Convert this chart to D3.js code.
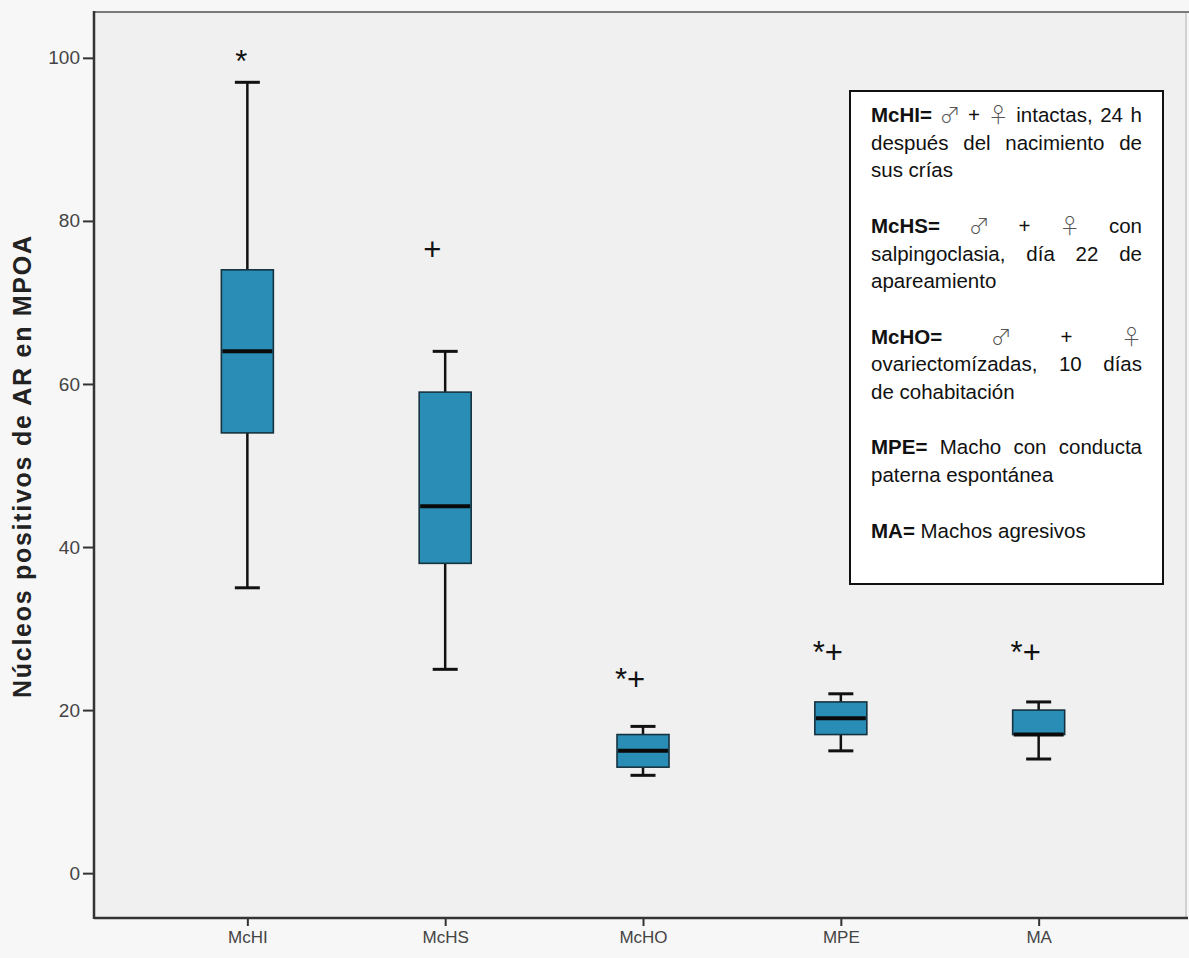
<!DOCTYPE html>
<html>
<head>
<meta charset="utf-8">
<script src="https://cdn.jsdelivr.net/npm/d3@7"></script>
<style>
  html, body { margin: 0; padding: 0; background: #f7f7f7; }
  svg { display: block; }
</style>
</head>
<body>
<svg id="chart" width="1189" height="958"></svg>
<script>
// ---- data ----
const categories   = ["McHI", "McHS", "McHO", "MPE", "MA"];
const whiskerLow   = [35, 25, 12, 15, 14];
const q1           = [54, 38, 13, 17, 17];
const median       = [64, 45, 15, 19, 17];
const q3           = [74, 59, 17, 21, 20];
const whiskerHigh  = [97, 64, 18, 22, 21];
const markLabels   = ["*", "+", "*+", "*+", "*+"];
const markValues   = [98.3, 75.2, 22.5, 25.8, 25.8];
const yTicks       = [0, 20, 40, 60, 80, 100];
const yTitle       = "Núcleos positivos de AR en MPOA";
const legendLines  = [
  ["**McHI=** ♂ + ♀ intactas, 24 h", true],
  ["después del nacimiento de", true],
  ["sus crías", false],
  ["", false],
  ["**McHS=** ♂ + ♀ con", true],
  ["salpingoclasia, día 22 de", true],
  ["apareamiento", false],
  ["", false],
  ["**McHO=** ♂ + ♀", true],
  ["ovariectomízadas, 10 días", true],
  ["de cohabitación", false],
  ["", false],
  ["**MPE=** Macho con conducta", true],
  ["paterna espontánea", false],
  ["", false],
  ["**MA=** Machos agresivos", false]
];

// ---- layout ----
const svg = d3.select("#chart");
const L = 94, R = 1186, T = 13, B = 918;

const y = d3.scaleLinear().domain([-5.5, 105.5]).range([B, T]);
const x = d3.scalePoint().domain(categories).range([L, R]).padding(0.76).align(0.51);

const boxW = 52, capW = 25;
const font = "'Liberation Sans', Arial, sans-serif";

// plot background
svg.append("rect").attr("x", L).attr("y", T).attr("width", R - L).attr("height", B - T)
  .attr("fill", "#f0f0f0");
// top and right frame
svg.append("line").attr("x1", L).attr("x2", 1189).attr("y1", T - 1).attr("y2", T - 1)
  .attr("stroke", "#7a7a7a").attr("stroke-width", 2);
svg.append("line").attr("x1", R).attr("x2", R).attr("y1", T).attr("y2", B)
  .attr("stroke", "#d0d0d0").attr("stroke-width", 2);

// axes
const yAxis = d3.axisLeft(y).tickValues(yTicks).tickSize(11).tickPadding(3).tickFormat(d3.format("d"));
const gy = svg.append("g").attr("transform", `translate(${L},0)`).call(yAxis);
gy.select(".domain").remove();
gy.selectAll(".tick line").attr("stroke", "#333").attr("stroke-width", 2);
gy.selectAll(".tick text").attr("font-family", font).attr("font-size", 19).attr("fill", "#444");

const xAxis = d3.axisBottom(x).tickSize(8).tickPadding(5);
const gx = svg.append("g").attr("transform", `translate(0,${B})`).call(xAxis);
gx.select(".domain").remove();
gx.selectAll(".tick line").attr("stroke", "#333").attr("stroke-width", 2);
gx.selectAll(".tick text").attr("font-family", "'Liberation Sans Narrow', 'Arial Narrow', 'Liberation Sans', sans-serif")
  .attr("font-size", 17).attr("fill", "#444");

// axis lines
svg.append("line").attr("x1", L).attr("x2", L).attr("y1", T - 2).attr("y2", B + 1)
  .attr("stroke", "#333").attr("stroke-width", 2.5);
svg.append("line").attr("x1", L).attr("x2", R + 2).attr("y1", B).attr("y2", B)
  .attr("stroke", "#333").attr("stroke-width", 2.5);

// y title
svg.append("text")
  .attr("transform", `translate(31,467) rotate(-90)`)
  .attr("text-anchor", "middle")
  .attr("font-family", font).attr("font-weight", "bold").attr("font-size", 25)
  .attr("textLength", 462).attr("lengthAdjust", "spacing")
  .attr("fill", "#222")
  .text(yTitle);

// boxes
const rows = categories.map((c, i) => ({
  c, lo: whiskerLow[i], q1: q1[i], med: median[i], q3: q3[i], hi: whiskerHigh[i],
  mark: markLabels[i], mv: markValues[i]
}));
const g = svg.append("g");
const box = g.selectAll("g.box").data(rows).join("g").attr("class", "box");

box.append("line").attr("x1", d => x(d.c)).attr("x2", d => x(d.c))
  .attr("y1", d => y(d.hi)).attr("y2", d => y(d.q3)).attr("stroke", "#111").attr("stroke-width", 2.5);
box.append("line").attr("x1", d => x(d.c)).attr("x2", d => x(d.c))
  .attr("y1", d => y(d.q1)).attr("y2", d => y(d.lo)).attr("stroke", "#111").attr("stroke-width", 2.5);
box.append("line").attr("x1", d => x(d.c) - capW / 2).attr("x2", d => x(d.c) + capW / 2)
  .attr("y1", d => y(d.hi)).attr("y2", d => y(d.hi)).attr("stroke", "#111").attr("stroke-width", 3);
box.append("line").attr("x1", d => x(d.c) - capW / 2).attr("x2", d => x(d.c) + capW / 2)
  .attr("y1", d => y(d.lo)).attr("y2", d => y(d.lo)).attr("stroke", "#111").attr("stroke-width", 3);
box.append("rect")
  .attr("x", d => x(d.c) - boxW / 2).attr("width", boxW)
  .attr("y", d => y(d.q3)).attr("height", d => y(d.q1) - y(d.q3))
  .attr("fill", "#2a8db6").attr("stroke", "#16323f").attr("stroke-width", 1.6);
box.append("line").attr("x1", d => x(d.c) - boxW / 2 + 1).attr("x2", d => x(d.c) + boxW / 2 - 1)
  .attr("y1", d => y(d.med)).attr("y2", d => y(d.med)).attr("stroke", "#0a0a0a").attr("stroke-width", 4);

// significance markers
box.append("text")
  .attr("x", d => x(d.c) + (d.mark === "*" ? -6 : -13))
  .attr("y", d => y(d.mv))
  .attr("text-anchor", "middle")
  .attr("font-family", font).attr("font-size", 31).attr("fill", "#111")
  .text(d => d.mark);

// legend
const lgX = 850, lgY = 91, lgW = 313, lgH = 493;
svg.append("rect").attr("x", lgX).attr("y", lgY).attr("width", lgW).attr("height", lgH)
  .attr("fill", "#ffffff").attr("stroke", "#111").attr("stroke-width", 2);

const textL = 871, textR = 1142, base0 = 122, lineH = 27.7, fs = 20.5;
const lg = svg.append("g");

function wordWidth(w) {
  const t = makeWord(w, 0, 0);
  const len = t.node().getComputedTextLength();
  t.remove();
  return len;
}
function makeWord(w, px, py) {
  let bold = false, s = w;
  if (s.startsWith("**")) { bold = true; s = s.replace(/\*\*/g, ""); }
  const sym = (s === "♂" || s === "♀");
  return lg.append("text").attr("x", px).attr("y", py)
    .attr("font-family", sym ? "'Noto Sans CJK JP', 'DejaVu Sans', sans-serif" : font)
    .attr("font-weight", bold ? "bold" : (sym ? 300 : "normal"))
    .attr("font-size", sym ? 21 : fs)
    .attr("fill", sym ? "#555" : "#111")
    .text(s);
}
const spaceW = (() => {
  const t = lg.append("text").attr("font-family", font).attr("font-size", fs).text("a a");
  const t2 = lg.append("text").attr("font-family", font).attr("font-size", fs).text("aa");
  const w = t.node().getComputedTextLength() - t2.node().getComputedTextLength();
  t.remove(); t2.remove();
  return w;
})();

legendLines.forEach(([line, justify], i) => {
  if (!line) return;
  const by = base0 + i * lineH;
  const words = line.split(" ");
  const widths = words.map(wordWidth);
  const total = d3.sum(widths);
  const gap = justify && words.length > 1 ? (textR - textL - total) / (words.length - 1) : spaceW;
  let cx = textL;
  words.forEach((w, k) => {
    makeWord(w, cx, by);
    cx += widths[k] + gap;
  });
});
</script>
</body>
</html>
